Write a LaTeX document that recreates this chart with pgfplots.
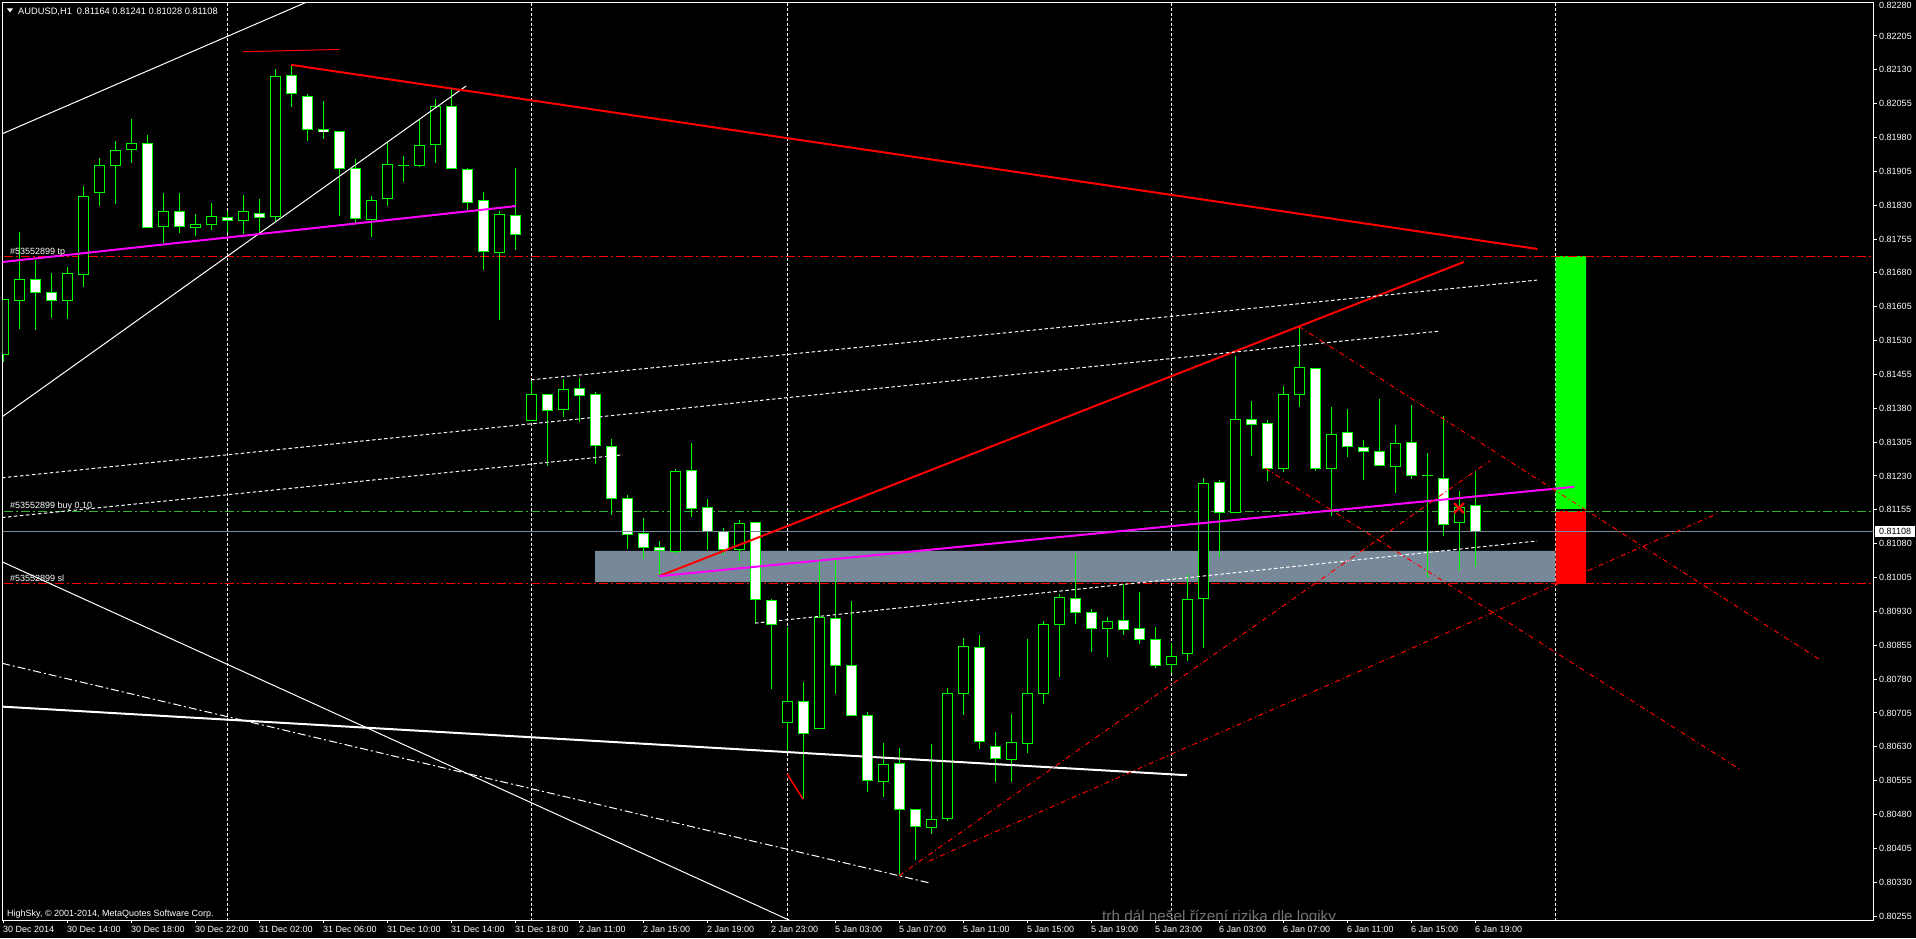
\documentclass[border=0pt]{standalone}
\usepackage{pgfplots}
\pgfplotsset{compat=1.18}
\usepackage{pgfplotstable}
\usepackage{fontspec}
\setmainfont{Liberation Sans}
\definecolor{cg}{RGB}{0,255,0}
\definecolor{mag}{RGB}{255,0,255}
\definecolor{lsg}{RGB}{119,136,153}
\definecolor{buyg}{RGB}{50,180,50}
\definecolor{txtgray}{RGB}{115,115,115}

\pgfplotstableread{
i o h l c
0 0.81500 0.81624 0.81483 0.81622
1 0.81619 0.81771 0.81556 0.81666
2 0.81666 0.81709 0.81556 0.81637
3 0.81637 0.81680 0.81581 0.81619
4 0.81619 0.81693 0.81578 0.81679
5 0.81677 0.81873 0.81649 0.81850
6 0.81859 0.81935 0.81829 0.81918
7 0.81918 0.81972 0.81833 0.81952
8 0.81952 0.82021 0.81924 0.81967
9 0.81967 0.81988 0.81781 0.81781
10 0.81783 0.81856 0.81746 0.81817
11 0.81817 0.81859 0.81770 0.81783
12 0.81783 0.81810 0.81763 0.81788
13 0.81788 0.81836 0.81777 0.81805
14 0.81803 0.81819 0.81770 0.81797
15 0.81797 0.81854 0.81768 0.81817
16 0.81814 0.81845 0.81768 0.81805
17 0.81805 0.82133 0.81797 0.82116
18 0.82118 0.82141 0.82047 0.82078
19 0.82071 0.82076 0.81972 0.81998
20 0.81998 0.82062 0.81978 0.81994
21 0.81994 0.81994 0.81808 0.81912
22 0.81912 0.81934 0.81792 0.81801
23 0.81799 0.81852 0.81761 0.81841
24 0.81845 0.81972 0.81830 0.81921
25 0.81919 0.81941 0.81883 0.81919
26 0.81918 0.82020 0.81915 0.81963
27 0.81965 0.82067 0.81925 0.82049
28 0.82049 0.82087 0.81910 0.81910
29 0.81910 0.81914 0.81821 0.81836
30 0.81839 0.81859 0.81686 0.81726
31 0.81726 0.81819 0.81577 0.81810
32 0.81808 0.81914 0.81732 0.81766
33 0.81353 0.81441 0.81353 0.81411
34 0.81411 0.81411 0.81253 0.81377
35 0.81377 0.81446 0.81361 0.81422
36 0.81425 0.81448 0.81349 0.81409
37 0.81411 0.81418 0.81258 0.81297
38 0.81296 0.81312 0.81144 0.81181
39 0.81181 0.81189 0.81068 0.81101
40 0.81103 0.81137 0.81047 0.81072
41 0.81072 0.81087 0.81008 0.81065
42 0.81063 0.81248 0.81059 0.81240
43 0.81242 0.81303 0.81139 0.81159
44 0.81159 0.81179 0.81066 0.81106
45 0.81107 0.81117 0.81056 0.81068
46 0.81069 0.81135 0.81044 0.81125
47 0.81127 0.81127 0.80904 0.80957
48 0.80954 0.80958 0.80759 0.80901
49 0.80684 0.80897 0.80617 0.80731
50 0.80731 0.80775 0.80514 0.80660
51 0.80672 0.81048 0.80672 0.80917
52 0.80915 0.81048 0.80747 0.80810
53 0.80810 0.80953 0.80700 0.80700
54 0.80700 0.80708 0.80530 0.80556
55 0.80553 0.80640 0.80520 0.80591
56 0.80593 0.80628 0.80344 0.80492
57 0.80492 0.80492 0.80381 0.80453
58 0.80453 0.80638 0.80439 0.80469
59 0.80472 0.80761 0.80466 0.80749
60 0.80749 0.80871 0.80702 0.80852
61 0.80851 0.80878 0.80624 0.80642
62 0.80632 0.80664 0.80553 0.80605
63 0.80602 0.80704 0.80553 0.80640
64 0.80638 0.80869 0.80616 0.80749
65 0.80749 0.80909 0.80726 0.80901
66 0.80901 0.80969 0.80785 0.80961
67 0.80959 0.81059 0.80901 0.80930
68 0.80928 0.80935 0.80839 0.80893
69 0.80893 0.80917 0.80830 0.80910
70 0.80910 0.80992 0.80879 0.80890
71 0.80892 0.80975 0.80859 0.80868
72 0.80868 0.80896 0.80807 0.80810
73 0.80813 0.80859 0.80793 0.80830
74 0.80837 0.81012 0.80821 0.80957
75 0.80959 0.81227 0.80850 0.81214
76 0.81216 0.81221 0.81051 0.81150
77 0.81150 0.81497 0.81150 0.81356
78 0.81356 0.81396 0.81275 0.81345
79 0.81347 0.81356 0.81220 0.81247
80 0.81247 0.81429 0.81240 0.81411
81 0.81411 0.81561 0.81384 0.81471
82 0.81469 0.81469 0.81242 0.81247
83 0.81247 0.81384 0.81142 0.81322
84 0.81325 0.81378 0.81273 0.81294
85 0.81294 0.81311 0.81221 0.81285
86 0.81285 0.81401 0.81254 0.81254
87 0.81252 0.81343 0.81192 0.81302
88 0.81305 0.81387 0.81223 0.81232
89 0.81232 0.81283 0.81006 0.81232
90 0.81225 0.81363 0.81099 0.81123
91 0.81127 0.81199 0.81020 0.81161
92 0.81164 0.81241 0.81028 0.81108
}\candles

\begin{document}
\begin{tikzpicture}[x=1pt,y=1pt]
\useasboundingbox (0pt,0pt) rectangle (1916pt,938pt);
\fill[black] (0pt,0pt) rectangle (1916pt,938pt);
\begin{axis}[
  at={(2.5pt,18pt)}, anchor=south west,
  scale only axis, width=1871pt, height=917.5pt,
  xmin=-0.03125, xmax=116.906, ymin=0.802462, ymax=0.822791,
  axis background/.style={fill=black},
  axis line style={white, line width=1pt},
  scaled ticks=false,
  xtick={0,4,...,92},
  xticklabels={30 Dec 2014, 30 Dec 14:00, 30 Dec 18:00, 30 Dec 22:00, 31 Dec 02:00, 31 Dec 06:00, 31 Dec 10:00, 31 Dec 14:00, 31 Dec 18:00, 2 Jan 11:00, 2 Jan 15:00, 2 Jan 19:00, 2 Jan 23:00, 5 Jan 03:00, 5 Jan 07:00, 5 Jan 11:00, 5 Jan 15:00, 5 Jan 19:00, 5 Jan 23:00, 6 Jan 03:00, 6 Jan 07:00, 6 Jan 11:00, 6 Jan 15:00, 6 Jan 19:00},
  ytick={0.80255,0.80330,0.80405,0.80480,0.80555,0.80630,0.80705,0.80780,0.80855,0.80930,0.81005,0.81080,0.81155,0.81230,0.81305,0.81380,0.81455,0.81530,0.81605,0.81680,0.81755,0.81830,0.81905,0.81980,0.82055,0.82130,0.82205},
  yticklabels={0.80255,0.80330,0.80405,0.80480,0.80555,0.80630,0.80705,0.80780,0.80855,0.80930,0.81005,0.81080,0.81155,0.81230,0.81305,0.81380,0.81455,0.81530,0.81605,0.81680,0.81755,0.81830,0.81905,0.81980,0.82055,0.82130,0.82205},
  xtick pos=bottom, ytick pos=right, yticklabel pos=right,
  tick align=outside, major tick length=3pt,
  tick style={white, line width=1pt},
  ticklabel style={font=\fontsize{9}{10}\selectfont, text=white, inner sep=0pt},
  xticklabel style={anchor=base west, yshift=-9.6pt},
  yticklabel style={anchor=west, xshift=2.5pt},
  clip=true,
]
% period separators
\addplot[white, line width=1pt, dash pattern=on 3pt off 2pt, forget plot] coordinates {(14,0.8020) (14,0.8230)};
\addplot[white, line width=1pt, dash pattern=on 3pt off 2pt, forget plot] coordinates {(33,0.8020) (33,0.8230)};
\addplot[white, line width=1pt, dash pattern=on 3pt off 2pt, forget plot] coordinates {(49,0.8020) (49,0.8230)};
\addplot[white, line width=1pt, dash pattern=on 3pt off 2pt, forget plot] coordinates {(73,0.8020) (73,0.8230)};
\addplot[white, line width=1pt, dash pattern=on 3pt off 2pt, forget plot] coordinates {(97,0.8020) (97,0.8230)};
% zones
\addplot[fill=lsg, draw=none, forget plot] coordinates {(37,0.80995) (97,0.80995) (97,0.81064) (37,0.81064) (37,0.80995)};
\addplot[fill=red, draw=none, forget plot] coordinates {(97.03,0.80991) (98.94,0.80991) (98.94,0.81152) (97.03,0.81152) (97.03,0.80991)};
\addplot[fill=cg, draw=none, forget plot] coordinates {(97.03,0.81157) (98.94,0.81157) (98.94,0.81717) (97.03,0.81717) (97.03,0.81157)};
% order levels
\addplot[red, line width=1pt, dash pattern=on 9pt off 3pt on 2pt off 3pt, forget plot] coordinates {(-1,0.81717) (120,0.81717)};
\addplot[buyg, line width=1pt, dash pattern=on 9pt off 3pt on 2pt off 3pt, forget plot] coordinates {(-1,0.81152) (120,0.81152)};
\addplot[red, line width=1pt, dash pattern=on 9pt off 3pt on 2pt off 3pt, forget plot] coordinates {(-1,0.80991) (120,0.80991)};
% candles: wicks
\addplot[draw=none, mark=none, forget plot,
  error bars/.cd, y dir=both, y explicit, error mark=none,
  error bar style={draw=cg, line width=1pt}]
  table[x=i, y expr={(\thisrow{h}+\thisrow{l})/2}, y error expr={(\thisrow{h}-\thisrow{l})/2}] {\candles};
% bodies outer
\addplot[draw=none, mark=none, forget plot,
  error bars/.cd, y dir=both, y explicit, error mark=none,
  error bar style={draw=cg, line width=11pt}]
  table[x=i, y expr={(\thisrow{o}+\thisrow{c})/2}, y error expr={abs(\thisrow{c}-\thisrow{o})/2+0.0000111}] {\candles};
% bull inner
\addplot[draw=none, mark=none, forget plot,
  error bars/.cd, y dir=both, y explicit, error mark=none,
  error bar style={draw=black, line width=9pt}]
  table[x=i, y expr={(\thisrow{o}+\thisrow{c})/2}, y error expr={(\thisrow{c}>\thisrow{o})*max((\thisrow{c}-\thisrow{o})/2-0.0000111,0)}] {\candles};
% bear inner
\addplot[draw=none, mark=none, forget plot,
  error bars/.cd, y dir=both, y explicit, error mark=none,
  error bar style={draw=white, line width=9pt}]
  table[x=i, y expr={(\thisrow{o}+\thisrow{c})/2}, y error expr={(\thisrow{o}>\thisrow{c})*max((\thisrow{o}-\thisrow{c})/2-0.0000111,0)}] {\candles};
% bid line
\addplot[lsg, line width=1pt, forget plot] coordinates {(-1,0.81108) (120,0.81108)};
% trend lines
\addplot[white, line width=1pt, forget plot] coordinates {(-0.0625,0.81988) (19.5,0.82288)};
\addplot[white, line width=1pt, forget plot] coordinates {(-0.0625,0.81361) (28.94,0.82094)};
\addplot[red, line width=1pt, forget plot] coordinates {(15,0.82170) (21,0.82175)};
\addplot[red, line width=2pt, forget plot] coordinates {(18,0.82141) (95.9,0.81733)};
\addplot[mag, line width=2pt, forget plot] coordinates {(-0.0625,0.81704) (32.06,0.81828)};
\addplot[red, line width=2pt, forget plot] coordinates {(41,0.81008) (91.3,0.81704)};
\addplot[mag, line width=2pt, forget plot] coordinates {(41,0.81008) (98.2,0.81206)};
\addplot[white, line width=1pt, dash pattern=on 3.5pt off 2.5pt, forget plot] coordinates {(33,0.81443) (95.875,0.81664)};
\addplot[white, line width=1pt, dash pattern=on 3.5pt off 2.5pt, forget plot] coordinates {(-0.0625,0.81226) (89.8,0.81551)};
\addplot[white, line width=1pt, dash pattern=on 3.5pt off 2.5pt, forget plot] coordinates {(-0.0625,0.81138) (38.75,0.81277)};
\addplot[white, line width=1pt, dash pattern=on 3.5pt off 2.5pt, forget plot] coordinates {(47,0.80904) (95.875,0.81086)};
\addplot[white, line width=2pt, forget plot] coordinates {(-0.0625,0.80719) (74,0.80567)};
\addplot[white, line width=1pt, forget plot] coordinates {(-0.0625,0.81040) (49.5,0.80240)};
\addplot[white, line width=1pt, dash pattern=on 8pt off 3pt on 2pt off 3pt, forget plot] coordinates {(-0.0625,0.80815) (57.94,0.80328)};
\addplot[red, line width=1pt, dash pattern=on 5pt off 3pt on 1pt off 3pt, forget plot] coordinates {(56,0.80344) (92.94,0.81264)};
\addplot[red, line width=1pt, dash pattern=on 5pt off 3pt on 1pt off 3pt, forget plot] coordinates {(57.875,0.80377) (107.1,0.81146)};
\addplot[red, line width=1pt, dash pattern=on 5pt off 3pt on 1pt off 3pt, forget plot] coordinates {(81,0.81561) (113.6,0.80822)};
\addplot[red, line width=1pt, dash pattern=on 5pt off 3pt on 1pt off 3pt, forget plot] coordinates {(78.9,0.81247) (108.6,0.80579)};
\addplot[red, line width=1.5pt, forget plot] coordinates {(49,0.80570) (50,0.80514)};
\addplot[red, only marks, mark=x, mark size=7pt, mark options={line width=2.2pt}, forget plot] coordinates {(91,0.81159)};
\end{axis}
% texts
\fill[white] (7pt,929.5pt) -- (13pt,929.5pt) -- (10pt,925.5pt) -- cycle;
\node[anchor=base west, inner sep=0pt, text=white, font=\fontsize{9.3}{10}\selectfont] at (18pt,923.6pt) {AUDUSD,H1\hspace{5pt}0.81164 0.81241 0.81028 0.81108};
\node[anchor=base west, inner sep=0pt, text=white, font=\fontsize{9}{10}\selectfont] at (7pt,21.7pt) {HighSky, © 2001-2014, MetaQuotes Software Corp.};
\node[anchor=base west, inner sep=0pt, text=white, font=\fontsize{9}{10}\selectfont] at (10pt,683pt) {\#53552899 tp};
\node[anchor=base west, inner sep=0pt, text=white, font=\fontsize{9}{10}\selectfont] at (10pt,429.7pt) {\#53552899 buy 0.10};
\node[anchor=base west, inner sep=0pt, text=white, font=\fontsize{9}{10}\selectfont] at (10pt,356.7pt) {\#53552899 sl};
\node[anchor=west, inner sep=0pt, text=white, font=\fontsize{9}{10}\selectfont] at (1879pt,933pt) {0.82280};
\node[anchor=west, fill=white, text=black, inner xsep=4pt, inner ysep=0pt, minimum height=11pt, font=\fontsize{9}{10}\selectfont] at (1875pt,406.5pt) {0.81108};
\begin{scope}
\clip (1000pt,18.5pt) rectangle (1500pt,60pt);
\node[anchor=base west, inner sep=0pt, text=txtgray, font=\fontsize{15.3}{16}\selectfont] at (1102pt,17pt) {trh dál nešel řízení rizika dle logiky};
\end{scope}
\end{tikzpicture}
\end{document}
